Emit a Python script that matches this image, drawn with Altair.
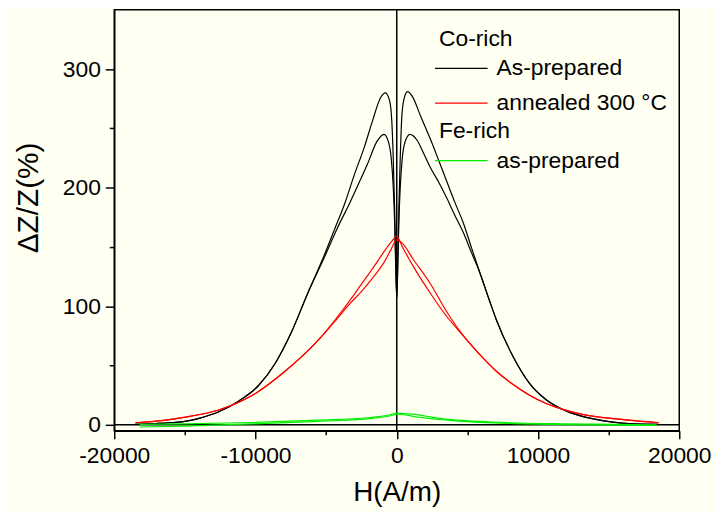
import altair as alt
import pandas as pd

# ---------------- data ----------------
# Co-rich, as-prepared: branch with the higher peaks (~280)
co_as_hi_H = [-18500, -16500, -15000, -14000, -12600, -11200, -9800, -8600, -7500, -6300, -5100,
              -4400, -3700, -3000, -2300, -1700, -1140, -800, -500, -350, -250, -150, -80, 0,
              80, 150, 250, 350, 500, 760, 1100, 1700, 2380, 3000, 3550, 4100, 4720, 5300, 5890,
              6500, 7070, 8240, 9400, 10600, 11750, 12900, 14100, 15300, 16400, 18500]
co_as_hi_v = [0.4, 1.5, 3, 5.5, 11, 20, 33, 52, 77, 111, 144,
              165, 186, 211, 234, 257, 276, 280, 273, 256, 226, 182, 142, 107,
              142, 182, 226, 258, 274, 281, 277, 260, 241, 222, 205, 188, 170, 149, 128,
              107, 88, 57.5, 35, 21, 13, 8, 4.6, 2.3, 1, 0.4]
# Co-rich, as-prepared: branch with the lower peaks (~245)
co_as_lo_H = [-18500, -16500, -15000, -14000, -12600, -11200, -9800, -8600, -7500, -6300, -5100,
              -4200, -3250, -2600, -2070, -1400, -900, -600, -400, -250, -150, -80, 0,
              80, 150, 250, 400, 600, 930, 1440, 1900, 2380, 3000, 3550, 4100, 4720, 5300, 5890,
              6500, 7070, 8240, 9400, 10600, 11750, 12900, 14100, 15300, 16400, 18500]
co_as_lo_v = [0.4, 1.5, 3, 5.5, 11, 20, 33, 52, 77, 111, 142,
              166, 189, 206, 220, 239, 245, 239, 226, 201, 171, 136, 107,
              136, 171, 201, 226, 239, 245, 240, 229, 217, 204, 191, 177, 162, 145, 128,
              107, 88, 57.5, 35, 21, 13, 8, 4.6, 2.3, 1, 0.4]
# Co-rich, annealed 300 C: two branches
co_an_a_H = [-18500, -16500, -14960, -12620, -10280, -7930, -5590, -4400, -3250, -2540,
             -1700, -900, -400, 0, 400, 1200, 2380, 3500, 4720, 5900, 7070, 8240,
             9400, 10580, 11750, 12900, 14100, 16440, 18550]
co_an_a_v = [1.8, 3.8, 6.5, 12.5, 24.5, 45, 71, 88, 106, 118,
             132, 146, 154, 159, 150, 133, 111, 92, 75, 59, 45, 34,
             25, 18, 13, 9.5, 7, 4, 1.8]
co_an_b_H = [-18500, -16500, -14960, -12620, -10280, -7930, -5590, -4400, -3250, -2540,
             -1700, -900, -400, 0, 400, 1200, 2380, 3500, 4720, 5900, 7070, 8240,
             9400, 10580, 11750, 12900, 14100, 16440, 18550]
co_an_b_v = [1.8, 3.8, 6.5, 12.5, 24.5, 45, 71, 87, 103, 112,
             124, 137, 148, 156, 153, 139, 119, 96, 75, 59, 45, 34,
             25, 18, 13, 9.5, 7, 4, 1.8]
# Fe-rich, as-prepared: two branches
fe_a_H = [-18200, -15000, -10280, -5590, -2070, -500, 0, 500, 1500, 3000,
          4370, 8000, 12000, 18400]
fe_a_v = [-1.8, -1, 0.8, 3, 5, 7.5, 8.8, 8.5, 6.5, 4.5, 3.2, 1.2, 0.2, -0.5]
fe_b_H = [-18200, -15000, -10280, -5590, -2070, -500, 0, 500, 1200, 2000,
          3000, 4370, 8000, 12000, 18400]
fe_b_v = [0.4, 0.8, 2, 4, 6, 8.5, 10, 9.5, 9, 7.5, 5.5, 4, 1.8, 0.8, 0]

co_series = ["As-prepared", "annealed 300 °C"]
fe_series = ["as-prepared"]
co_colors = ["#000000", "#ff0000"]
fe_colors = ["#00ee00"]

x_ticks = [-20000, -15000, -10000, -5000, 0, 5000, 10000, 15000, 20000]
y_ticks = [0, 50, 100, 150, 200, 250, 300]

# ---------------- tables ----------------
def table(H, v, series, branch):
    return pd.DataFrame({"H": H, "v": v, "series": series, "branch": branch})

co_df = pd.concat([
    table(co_as_hi_H, co_as_hi_v, co_series[0], "hi"),
    table(co_as_lo_H, co_as_lo_v, co_series[0], "lo"),
    table(co_an_a_H, co_an_a_v, co_series[1], "a"),
    table(co_an_b_H, co_an_b_v, co_series[1], "b"),
], ignore_index=True)
fe_df = pd.concat([
    table(fe_a_H, fe_a_v, fe_series[0], "a"),
    table(fe_b_H, fe_b_v, fe_series[0], "b"),
], ignore_index=True)

FONT = "Liberation Sans, Arial, sans-serif"

x_scale = alt.Scale(domain=[-20000, 20000], nice=False, zero=False)
y_scale = alt.Scale(domain=[-5, 350], nice=False, zero=False)

x_axis = alt.Axis(
    values=x_ticks,
    labelExpr="datum.value % 10000 === 0 ? '' + datum.value : ''",
    tickSize={"condition": {"test": "datum.value % 10000 === 0", "value": 8}, "value": 4},
    title="H(A/m)", titleFontSize=28, titleFontWeight="normal", titleFont=FONT,
    titleY=62, titleBaseline="middle",
    labelPadding=6, labelFlush=False, labelOverlap=False,
    labelFont=FONT, labelFontSize=23, grid=False,
)
y_axis = alt.Axis(
    values=y_ticks,
    labelExpr="datum.value % 100 === 0 ? '' + datum.value : ''",
    tickSize={"condition": {"test": "datum.value % 100 === 0", "value": 9}, "value": 5},
    title="ΔZ/Z(%)", titleFontSize=30, titleFontWeight="normal", titleFont=FONT,
    titleX=-86, titleY=189, titleAngle=270, titleBaseline="middle", titleAlign="center",
    labelPadding=5, labelOverlap=False, labelFlush=False,
    labelFont=FONT, labelFontSize=23, grid=False,
)

# legend symbol: a horizontal stroke 1.233 x sqrt(size) long, so the row height
# (driven by sqrt(size)) stays compact while the sample line stays long
LEG_PATH = "M-1.233,0H1.233"

def legend(title, y):
    return alt.Legend(
        title=title, orient="none", legendX=327, legendY=y,
        titleFont=FONT, titleFontSize=23, titleFontWeight="normal",
        titleColor="black", titlePadding=-5,
        labelFont=FONT, labelFontSize=23, labelColor="black", labelLimit=400,
        symbolType=LEG_PATH, symbolSize=1849, symbolStrokeWidth=1.2,
        symbolFillColor="transparent",
        labelOffset=13, rowPadding=0)

co_lines = alt.Chart(co_df).mark_line(strokeWidth=1.2, clip=True, interpolate="monotone").encode(
    x=alt.X("H:Q", scale=x_scale, axis=x_axis),
    y=alt.Y("v:Q", scale=y_scale, axis=y_axis),
    color=alt.Color("series:N", scale=alt.Scale(domain=co_series, range=co_colors),
                    legend=legend("Co-rich", 18.5)),
    detail="branch:N",
    order="H:Q",
)
fe_lines = alt.Chart(fe_df).mark_line(strokeWidth=1.2, clip=True, interpolate="monotone").encode(
    x=alt.X("H:Q", scale=x_scale),
    y=alt.Y("v:Q", scale=y_scale),
    stroke=alt.Stroke("series:N", scale=alt.Scale(domain=fe_series, range=fe_colors),
                      legend=legend("Fe-rich", 111.5)),
    detail="branch:N",
    order="H:Q",
)

zero_df = pd.DataFrame({"z": [0]})
vline = alt.Chart(zero_df).mark_rule(color="black", strokeWidth=1.5).encode(
    x=alt.X("z:Q", scale=x_scale))
hline = alt.Chart(zero_df).mark_rule(color="black", strokeWidth=1.5).encode(
    y=alt.Y("z:Q", scale=y_scale))

chart = alt.layer(vline, hline, co_lines, fe_lines).properties(
    width=569, height=424,
    autosize=alt.AutoSizeParams(type="none"),
    padding={"left": 107, "top": 0, "right": 36, "bottom": 80},
    background="#fffff2",
).configure_view(
    stroke="black", strokeWidth=1.5,
).configure_axis(
    domainColor="black", domainWidth=1.5, tickColor="black", tickWidth=1.5,
    labelColor="black", titleColor="black",
)

chart.save("out.html", embed_options={"renderer": "svg", "actions": False})
